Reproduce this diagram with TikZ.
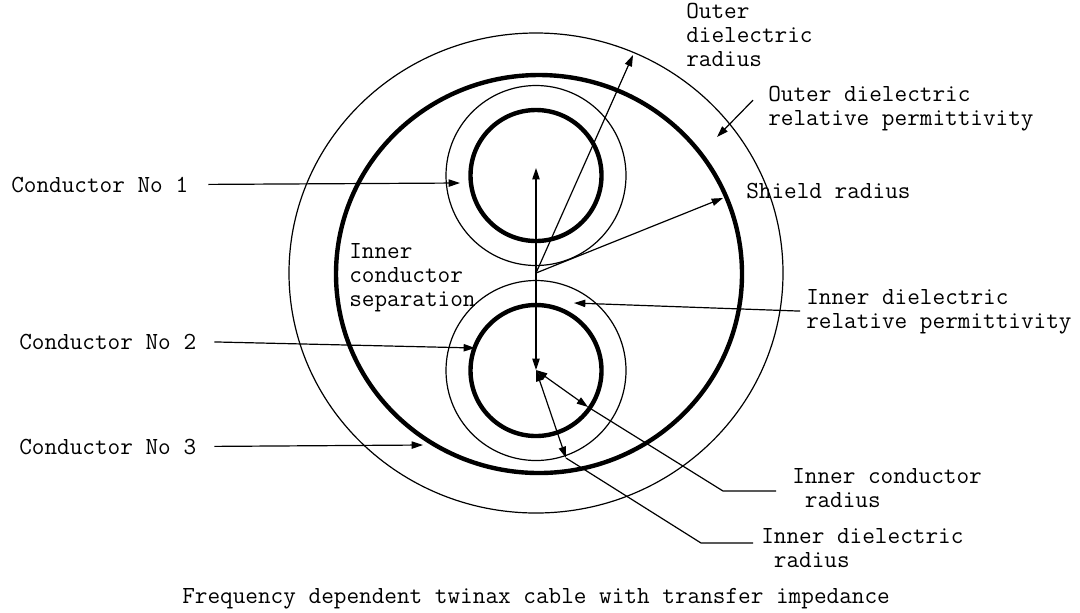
\documentclass[tikz,border=0pt]{standalone}
\usepackage{fontspec}
\usetikzlibrary{arrows.meta}
\usetikzlibrary{positioning}

\tikzset{
  lbl/.style={font=\ttfamily\fontsize{18.4}{18}\selectfont, inner sep=0pt, anchor=base west, align=left},
  wire/.style={line width=3.3pt},
  ins/.style={line width=0.9pt},
  lead/.style={line width=0.9pt, -{Triangle[length=8.5pt,width=5.5pt]}},
  dlead/.style={line width=0.9pt, {Triangle[length=8.5pt,width=5.5pt]}-{Triangle[length=8.5pt,width=5.5pt]}},
}

\begin{document}
\begin{tikzpicture}[x=0.75pt,y=0.75pt,yscale=-1,xscale=1]
		\useasboundingbox (0,0) rectangle (1080,612);
		
		%Shape: Ellipse [outer dielectric]
		\draw[ins] (536,273) ellipse (247 and 240);
		%Shape: Ellipse [shield]
		\draw[wire] (539,274) ellipse (203 and 199);
		%Shape: Circle [dielectric 1, conductor 1]
		\draw[ins] (536,175.5) circle (90);
		\draw[wire] (536,175.5) circle (65.5);
		%Shape: Circle [dielectric 2, conductor 2]
		\draw[ins] (536,370.5) circle (90);
		\draw[wire] (536,370.5) circle (65.5);
		
		%Points
		\coordinate (c1) at (536,168);
		\coordinate (c2) at (536,370);
		\coordinate (orig) at (536,273);
		\coordinate (cond1tip) at (460,183);
		\coordinate (cond2tip) at (475,348);
		\coordinate (cond3tip) at (423,445);
		\coordinate (odradtip) at (633,55);
		\coordinate (shieldtip) at (723,198);
		\coordinate (odpermtip) at (717,137);
		\coordinate (idpermtip) at (574,303);
		\coordinate (icradtip) at (588,407);
		\coordinate (icradknee) at (723,491);
		\coordinate (idradtip) at (566,458);
		\coordinate (idradknee) at (701,543);
		
		% Text Node (base = last line)
		\node[lbl] (cond1lbl) at (11,192) {Conductor No 1};
		\node[lbl] (cond2lbl) at (19,349) {Conductor No 2};
		\node[lbl] (cond3lbl) at (19,454) {Conductor No 3};
		\node[lbl] (seplbl) at (349,306) {Inner\\conductor\\separation};
		\node[lbl] (odradlbl) at (686,66) {Outer\\dielectric\\radius};
		\node[lbl] (odpermlbl) at (768,125) {Outer dielectric\\relative permittivity};
		\node[lbl] (shieldlbl) at (746,198) {Shield radius};
		\node[lbl] (idpermlbl) at (806,328) {Inner dielectric\\relative permittivity};
		\node[lbl] (icradlbl) at (792,507) {Inner conductor\\\ radius};
		\node[lbl] (idradlbl) at (761,567) {Inner dielectric\\\ radius};
		\node[lbl] (caption) at (182,603) {Frequency dependent twinax cable with transfer impedance};
		
		%Straight Lines
		\draw[lead, shorten <=15pt] (cond1lbl.east) -- (cond1tip);
		\draw[lead, shorten <=13.5pt] (cond2lbl.east) -- (cond2tip);
		\draw[lead, shorten <=13.5pt] (cond3lbl.east) -- (cond3tip);
		\draw[dlead] (c2) -- (c1);
		\draw[lead] (orig) -- (odradtip);
		\draw[lead] (orig) -- (shieldtip);
		\draw[lead] ([shift={(-15,-8)}]odpermlbl.west) -- (odpermtip);
		\draw[lead, shorten <=4.5pt] (idpermlbl.west) -- (idpermtip);
		\draw[dlead] (c2) -- (icradtip);
		\draw[ins, shorten >=12pt] (icradtip) -- (icradknee) -- (icradlbl.west |- icradknee);
		\draw[dlead] (c2) -- (idradtip);
		\draw[ins, shorten >=6pt] (idradtip) -- (idradknee) -- (idradlbl.west |- idradknee);
		
	\end{tikzpicture}
\end{document}
